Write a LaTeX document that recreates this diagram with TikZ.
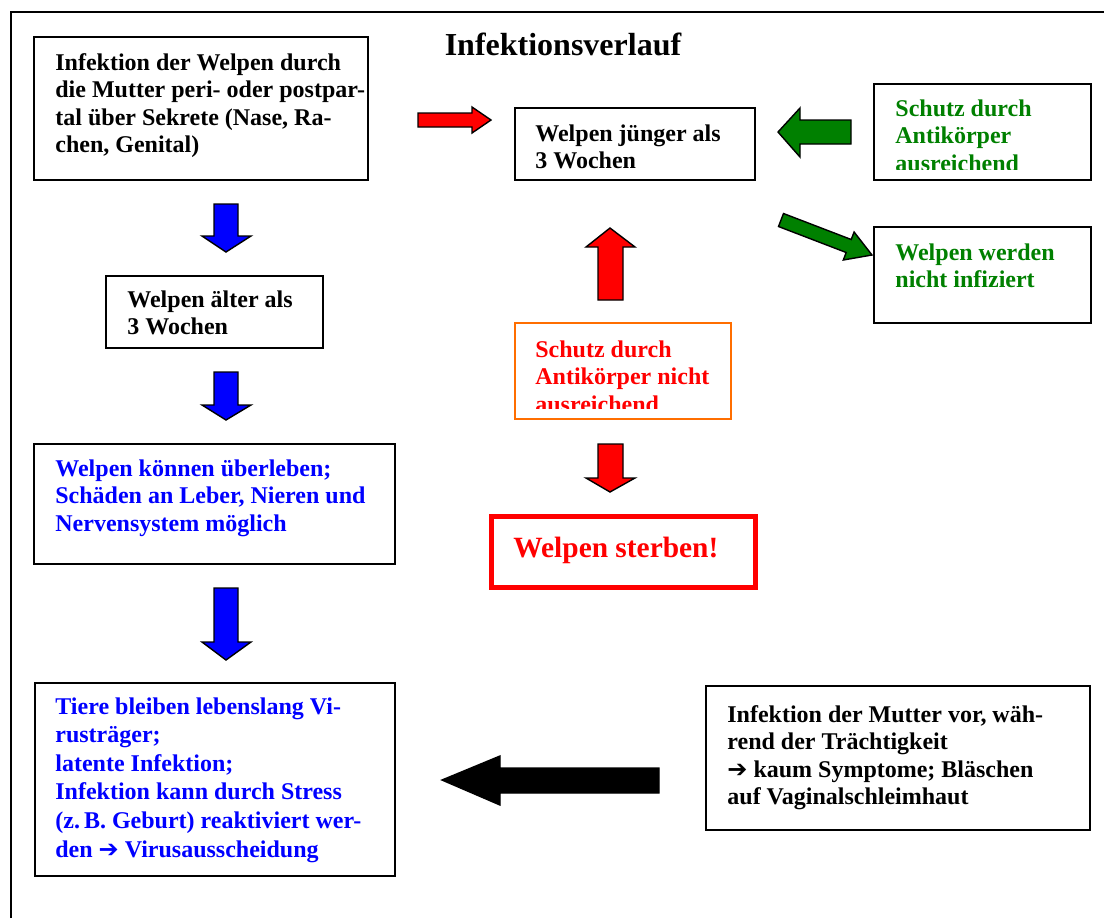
\documentclass[tikz,border=0pt]{standalone}
\usepackage{fontspec}
\setmainfont{Liberation Serif}
\newfontfamily\arrfont{DejaVu Sans}
\usetikzlibrary{fit}
\definecolor{mygreen}{RGB}{0,128,0}
\definecolor{myblue}{RGB}{0,0,255}
\definecolor{myred}{RGB}{255,0,0}
\definecolor{myorange}{RGB}{255,110,0}
\newcommand{\ra}{{\arrfont\bfseries ➔}}
\newcommand{\ml}[1]{\begin{tabular}[t]{@{}l@{}}#1\end{tabular}}
\begin{document}
\begin{tikzpicture}[x=0.5pt,y=-0.5pt,
  box/.style={draw=black, line width=1pt, inner sep=0pt},
  txt/.style={anchor=base west, inner sep=0pt, font=\fontsize{12}{13.8}\selectfont\bfseries},
  barrow/.style={draw=black, line width=0.7pt, line join=miter}]
\useasboundingbox (0,0) rectangle (1104,918);
\fill[white] (0,0) rectangle (1104,918);
% frame
\draw[line width=1pt] (11,918) -- (11,12) -- (1104,12);
% title
\node[anchor=base, inner sep=0pt, font=\fontsize{16}{18}\selectfont\bfseries] (title) at (563,55) {Infektionsverlauf};
% box 1
\node[box, fit={(34,37) (368,180)}] (b1) {};
\node[txt] (t1) at (55,70) {\ml{Infektion der Welpen durch\\die Mutter peri- oder postpar-\\tal über Sekrete (Nase, Ra-\\chen, Genital)}};
% Welpen juenger
\node[box, fit={(515,108) (755,180)}] (b2) {};
\node[txt] (t2) at (535,141) {\ml{Welpen jünger als\\3 Wochen}};
% Schutz ausreichend
\node[box, fit={(874,84) (1091,180)}] (b3) {};
\begin{scope}
\clip (876,86) rectangle (1089,169);
\node[txt, text=mygreen] (t3) at (895,116) {\ml{Schutz durch\\Antikörper\\ausreichend}};
\end{scope}
% Welpen werden nicht infiziert
\node[box, fit={(874,227) (1091,323)}] (b4) {};
\node[txt, text=mygreen] (t4) at (895,260) {\ml{Welpen werden\\nicht infiziert}};
% orange box
\node[draw=myorange, line width=1pt, inner sep=0pt, fit={(515,323) (731,419)}] (b5) {};
\begin{scope}
\clip (517,325) rectangle (729,408);
\node[txt, text=myred] (t5) at (535,357) {\ml{Schutz durch\\Antikörper nicht\\ausreichend}};
\end{scope}
% sterben
\node[draw=myred, line width=2.5pt, inner sep=0pt, fit={(491,516) (755,587)}] (b6) {};
\node[anchor=base west, inner sep=0pt, text=myred, font=\fontsize{14.7}{17}\selectfont\bfseries] (t6) at (513,557) {Welpen sterben!};
% aelter
\node[box, fit={(106,276) (323,348)}] (b7) {};
\node[txt] (t7) at (127,307) {\ml{Welpen älter als\\3 Wochen}};
% koennen
\node[box, fit={(34,444) (395,564)}] (b8) {};
\node[txt, text=myblue] (t8) at (55,476) {\ml{Welpen können überleben;\\Schäden an Leber, Nieren und\\Nervensystem möglich}};
% Tiere
\node[box, fit={(35,683) (395,876)}] (b9) {};
\node[txt, text=myblue, font=\fontsize{12}{14.3}\selectfont\bfseries] (t9) at (55,714) {\ml{Tiere bleiben lebenslang Vi-\\rusträger;\\latente Infektion;\\Infektion kann durch Stress\\(z.\,B. Geburt) reaktiviert wer-\\den \ra{} Virusausscheidung}};
% Mutter
\node[box, fit={(706,686) (1090,830)}] (b10) {};
\node[txt] (t10) at (727,722) {\ml{Infektion der Mutter vor, wäh-\\rend der Trächtigkeit\\\ra{} kaum Symptome; Bläschen\\auf Vaginalschleimhaut}};
% arrows
\draw[barrow, fill=myred] (418,113) -- (472,113) -- (472,107) -- (491,120) -- (472,133) -- (472,127) -- (418,127) -- cycle;
\draw[barrow, fill=mygreen] (851,120) -- (800,120) -- (800,108) -- (778,132) -- (800,157) -- (800,144) -- (851,144) -- cycle;
\draw[barrow, fill=mygreen] (778.5,226.5) -- (783.5,213.5) -- (851.2,239.5) -- (854.1,232) -- (872,255) -- (843.3,260) -- (846.2,252.5) -- cycle;
\draw[barrow, fill=myred] (598,300) -- (598,247) -- (586,247) -- (610,228) -- (635,247) -- (623,247) -- (623,300) -- cycle;
\draw[barrow, fill=myred] (598,444) -- (623,444) -- (623,478) -- (635,478) -- (610,492) -- (586,478) -- (598,478) -- cycle;
\draw[barrow, fill=myblue] (214,204) -- (238,204) -- (238,236) -- (251,236) -- (226,252) -- (202,236) -- (214,236) -- cycle;
\draw[barrow, fill=myblue] (214,372) -- (238,372) -- (238,405) -- (251,405) -- (226,420) -- (202,405) -- (214,405) -- cycle;
\draw[barrow, fill=myblue] (214,588) -- (238,588) -- (238,642) -- (251,642) -- (226,660) -- (202,642) -- (214,642) -- cycle;
\draw[barrow, fill=black] (659,768) -- (500,768) -- (500,756) -- (442,780) -- (500,805) -- (500,793) -- (659,793) -- cycle;
\end{tikzpicture}
\end{document}
